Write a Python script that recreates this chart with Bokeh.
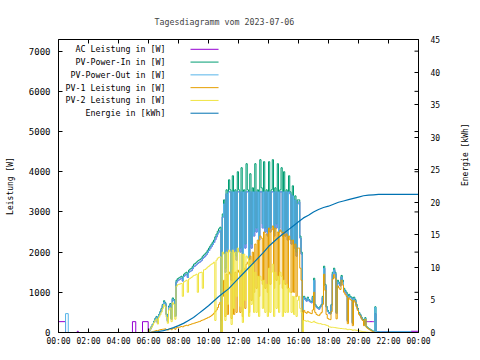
import numpy as np
from bokeh.plotting import figure
from bokeh.models import Range1d, LinearAxis, FixedTicker
from bokeh.core.properties import value
from bokeh.embed import file_html
from bokeh.resources import INLINE

TITLE = "Tagesdiagramm vom 2023-07-06"
Y_LABEL = "Leistung [W]"
Y2_LABEL = "Energie [kWh]"
X_TICKS = list(range(0, 25, 2))
X_TICK_LABELS = ["00:00", "02:00", "04:00", "06:00", "08:00", "10:00", "12:00",
                 "14:00", "16:00", "18:00", "20:00", "22:00", "00:00"]
Y_TICKS = [0, 1000, 2000, 3000, 4000, 5000, 6000, 7000]
Y2_TICKS = [0, 5, 10, 15, 20, 25, 30, 35, 40, 45]
X_MAX = 24
Y_MAX = 7290
Y2_MAX = 45

LABELS = ["AC Leistung in [W]", "PV-Power-In in [W]", "PV-Power-Out in [W]",
          "PV-1 Leistung in [W]", "PV-2 Leistung in [W]", "Energie in [kWh]"]
COLORS = ["#9400d3", "#009e73", "#56b4e9", "#e69f00", "#f0e442", "#0072b2"]

# ---- day samples, 5-minute steps from 06:00 to 22:00 ----
DAY_START = 6.0
STEP_MIN = 5

PV_IN_DAY = [
    40, 90, 150, 210, 280, 350, 400, 260, 450, 520, 600, 700,
    790, 740, 460, 300, 660, 720, 350, 860, 820, 420, 1300, 1340,
    1360, 1380, 1400, 1330, 1450, 1480, 1500, 1420, 1550, 1580, 1600, 1650,
    1700, 1720, 1750, 1780, 1800, 1820, 1850, 1900, 1930, 1960, 2000, 2050,
    2100, 2150, 2200, 2250, 2300, 2380, 2450, 2520, 2580, 2620, 0, 2950,
    3300, 1600, 3550, 2100, 3800, 3550, 1400, 3900, 2100, 3550, 1900, 4000,
    3550, 2100, 4100, 1500, 3550, 2200, 4200, 3550, 1800, 3950, 2200, 3600,
    2500, 4200, 2600, 3550, 2400, 4300, 3600, 2700, 4250, 2600, 3550, 2500,
    4250, 2600, 3550, 4300, 2500, 3600, 2700, 4200, 2600, 3550, 4100, 2500,
    4000, 2500, 3550, 2400, 3900, 3500, 2300, 3650, 2200, 3400, 2000, 3300,
    3300, 2400, 2000, 0, 900, 850, 800, 880, 820, 780, 760, 900,
    1350, 700, 650, 620, 600, 650, 700, 900, 1650, 1200, 650, 550,
    500, 480, 700, 1500, 1600, 1500, 500, 1300, 1250, 1200, 1420, 1300,
    1100, 1050, 1000, 300, 950, 900, 880, 250, 880, 820, 700, 600,
    500, 450, 380, 330, 200, 370, 150, 120, 100, 80, 60, 40,
    30, 640, 20, 20, 10, 10, 0, 0, 0, 0, 0, 0,
    0]

PV_OUT_DAY = [
    30, 80, 140, 200, 260, 330, 380, 240, 430, 500, 570, 670,
    760, 710, 440, 280, 630, 690, 330, 830, 790, 400, 1250, 1290,
    1310, 1330, 1350, 1280, 1400, 1430, 1450, 1370, 1500, 1520, 1540, 1590,
    1640, 1660, 1690, 1720, 1740, 1760, 1790, 1840, 1870, 1900, 1940, 1990,
    2040, 2090, 2140, 2190, 2240, 2310, 2380, 2450, 2500, 2540, 0, 2870,
    3200, 1500, 3450, 2000, 3500, 3500, 1300, 3500, 2000, 3500, 1800, 3500,
    3500, 2000, 3500, 1400, 3500, 2100, 3500, 3500, 1700, 3500, 2100, 3500,
    2400, 3500, 2500, 3500, 2300, 3500, 3500, 2600, 3500, 2500, 3500, 2400,
    3500, 2500, 3500, 3500, 2400, 3500, 2600, 3500, 2500, 3500, 3500, 2400,
    3500, 2400, 3500, 2300, 3500, 3450, 2200, 3400, 2100, 3300, 1900, 3200,
    3250, 2350, 1950, 0, 870, 820, 780, 850, 790, 760, 740, 870,
    1300, 680, 630, 600, 580, 630, 680, 870, 1600, 1170, 630, 520,
    480, 460, 680, 1450, 1560, 1460, 480, 1260, 1210, 1160, 1380, 1260,
    1060, 1010, 960, 280, 910, 870, 850, 230, 850, 790, 670, 580,
    480, 430, 360, 310, 190, 350, 140, 110, 90, 70, 55, 35,
    25, 620, 25, 25, 25, 25, 25, 25, 25, 25, 25, 25,
    25]

PV1_DAY = [
    0, 0, 10, 20, 30, 40, 50, 40, 60, 70, 75, 80,
    85, 90, 70, 60, 90, 95, 70, 100, 100, 80, 120, 125,
    130, 140, 150, 140, 160, 170, 180, 170, 190, 200, 210, 220,
    230, 240, 250, 260, 270, 280, 300, 310, 320, 340, 350, 370,
    380, 400, 420, 450, 480, 520, 560, 620, 700, 750, 0, 900,
    1300, 400, 1450, 450, 1500, 1450, 350, 1550, 450, 1500, 500, 1550,
    1500, 500, 1550, 400, 1600, 600, 1700, 1750, 500, 1900, 800, 2000,
    1000, 2200, 1100, 2300, 900, 2400, 2350, 1200, 2500, 1100, 2450, 1000,
    2600, 1200, 2550, 2650, 1100, 2600, 1300, 2500, 1200, 2550, 2500, 1100,
    2500, 1200, 2450, 1100, 2400, 2300, 1000, 2300, 1000, 2200, 900, 2100,
    2100, 1600, 1300, 0, 550, 500, 480, 520, 500, 480, 470, 560,
    1000, 500, 450, 430, 420, 460, 500, 700, 1450, 1050, 450, 350,
    330, 320, 520, 1330, 1440, 1350, 340, 1160, 1110, 1070, 1300, 1180,
    1000, 950, 900, 220, 860, 820, 800, 170, 800, 750, 640, 550,
    450, 410, 340, 300, 170, 330, 130, 100, 80, 60, 40, 20,
    10, 0, 0, 0, 0, 0, 0, 0, 0, 0, 0, 0,
    0]

PV2_DAY = [
    30, 80, 130, 180, 240, 300, 340, 210, 380, 440, 510, 600,
    690, 640, 380, 230, 560, 610, 270, 740, 700, 330, 1150, 1190,
    1200, 1210, 1220, 900, 1260, 1280, 1300, 1000, 1330, 1350, 1370, 1400,
    1420, 1430, 1450, 1000, 1480, 1490, 1500, 1100, 1560, 1570, 1600, 1630,
    1650, 1680, 1700, 1720, 1750, 300, 1800, 1850, 1870, 1880, 0, 2000,
    1950, 300, 2000, 700, 2050, 2000, 200, 2050, 600, 2000, 900, 2100,
    2000, 650, 1950, 250, 1950, 800, 1900, 1850, 400, 1800, 700, 1700,
    500, 1500, 500, 1400, 400, 1400, 1300, 600, 1300, 500, 1200, 400,
    1600, 500, 1500, 1700, 400, 1500, 600, 1400, 500, 1500, 1400, 400,
    1300, 500, 1200, 500, 1100, 1000, 500, 900, 450, 900, 400, 800,
    900, 600, 500, 0, 300, 290, 280, 290, 270, 260, 250, 260,
    280, 250, 240, 230, 220, 220, 210, 200, 200, 190, 180, 170,
    140, 135, 130, 130, 125, 120, 115, 110, 105, 100, 100, 95,
    90, 90, 85, 70, 80, 75, 70, 55, 65, 60, 55, 50,
    40, 35, 30, 25, 20, 15, 10, 10, 5, 5, 0, 0,
    0, 0, 0, 0, 0, 0, 0, 0, 0, 0, 0, 0,
    0]

# ---- night samples (hours, values) ----
NIGHT_AM_T = [0.0, 0.47, 0.65]
PV_OUT_NIGHT_AM = [0, 470, 0]
ZERO_NIGHT_AM = [0, 0, 0]
NIGHT_PM_T = [23.5, 24.0]
PV_OUT_NIGHT_PM = [0, 0]
ZERO_NIGHT_PM = [0, 0]

AC_NIGHT_AM_T = [0.0, 0.47, 1.25, 1.32, 4.93, 5.15, 5.6, 5.98]
AC_NIGHT_AM = [270, 0, 30, 0, 270, 0, 270, 0]
AC_NIGHT_PM = [30, 30]
# AC follows PV-Power-Out during the day except where it shows on its own
AC_DAY_OVERRIDES = {58: 300, 173: 270, 174: 270, 175: 270, 176: 270,
                    177: 270, 178: 270, 179: 270, 180: 270, 181: 470}

# ---- energy, 20-minute steps from 06:00 to 22:00 (kWh) ----
E_STEP_MIN = 20
ENERGY_DAY = [0, 0.05, 0.15, 0.3, 0.5, 0.75, 1.05, 1.4, 1.85, 2.3, 2.9, 3.5,
              4.1, 4.8, 5.5, 6.1, 6.7, 7.5, 8.3, 9.1, 9.9, 10.7, 11.5, 12.3,
              13.2, 13.9, 14.6, 15.2, 15.8, 16.4, 17.0, 17.6, 18.0, 18.5, 18.9,
              19.2, 19.4, 19.7, 20.0, 20.2, 20.4, 20.6, 20.8, 21.0, 21.1, 21.15,
              21.2, 21.2, 21.2]
ENERGY_T_START = [0.0]
ENERGY_START = [0]
ENERGY_T_END = [24.0]
ENERGY_END = [21.2]

day_t = list(DAY_START + np.arange(len(PV_IN_DAY)) * STEP_MIN / 60.0)
e_t = list(DAY_START + np.arange(len(ENERGY_DAY)) * E_STEP_MIN / 60.0)

ac_day = list(PV_OUT_DAY)
for k, v in AC_DAY_OVERRIDES.items():
    ac_day[k] = v

series = [
    (AC_NIGHT_AM_T + day_t + NIGHT_PM_T, AC_NIGHT_AM + ac_day + AC_NIGHT_PM),
    (NIGHT_AM_T + day_t + NIGHT_PM_T, ZERO_NIGHT_AM + PV_IN_DAY + ZERO_NIGHT_PM),
    (NIGHT_AM_T + day_t + NIGHT_PM_T, PV_OUT_NIGHT_AM + PV_OUT_DAY + PV_OUT_NIGHT_PM),
    (NIGHT_AM_T + day_t + NIGHT_PM_T, ZERO_NIGHT_AM + PV1_DAY + ZERO_NIGHT_PM),
    (NIGHT_AM_T + day_t + NIGHT_PM_T, ZERO_NIGHT_AM + PV2_DAY + ZERO_NIGHT_PM),
]

FONT = "DejaVu Sans Mono"

p = figure(frame_width=360, frame_height=293, output_backend="svg",
           toolbar_location=None,
           x_range=Range1d(0, X_MAX), y_range=Range1d(0, Y_MAX),
           min_border_left=58, min_border_right=62, min_border_top=39,
           min_border_bottom=28, background_fill_color="white",
           border_fill_color="white")
p.extra_y_ranges = {"energy": Range1d(0, Y2_MAX)}
p.grid.visible = False
p.outline_line_color = "black"
p.outline_line_width = 1

p.title.text = TITLE
p.title.align = "left"
p.title.offset = 96
p.title.text_font = FONT
p.title.text_font_size = "8.3px"
p.title.text_font_style = "normal"
p.title.standoff = 26

for (x, y), c in zip(series, COLORS[:5]):
    p.step(x=x, y=y, mode="after", line_color=c, line_width=1)

p.line(x=ENERGY_T_START + e_t + ENERGY_T_END, y=ENERGY_START + ENERGY_DAY + ENERGY_END,
       line_color=COLORS[5], line_width=1.2, y_range_name="energy")

# legend (top-left, text right-aligned, sample line to the right)
LEG_TEXT_X = 7.13
LEG_LINE_X0 = 8.8
LEG_LINE_X1 = 10.67
LEG_TOP = 7046
LEG_STEP = 318
rows = [LEG_TOP - i * LEG_STEP for i in range(len(LABELS))]
p.text(x=[LEG_TEXT_X] * len(LABELS), y=rows, text=LABELS, text_align="right",
       text_baseline="middle", text_font=value(FONT), text_font_size="8.3px",
       text_color="black")
p.segment(x0=[LEG_LINE_X0] * len(LABELS), y0=rows, x1=[LEG_LINE_X1] * len(LABELS),
          y1=rows, line_color=COLORS, line_width=1)

# mirrored inward tick marks on the top and right borders
TICK_PX = 4
tick_w = TICK_PX * Y_MAX / 293.0
tick_h = TICK_PX * X_MAX / 360.0
p.segment(x0=X_TICKS, y0=[Y_MAX] * len(X_TICKS), x1=X_TICKS,
          y1=[Y_MAX - tick_w] * len(X_TICKS), line_color="black", line_width=1)
p.segment(x0=[X_MAX] * len(Y_TICKS), y0=Y_TICKS, x1=[X_MAX - tick_h] * len(Y_TICKS),
          y1=Y_TICKS, line_color="black", line_width=1)

def style(ax, fs):
    ax.axis_line_color = "black"
    ax.major_tick_line_color = "black"
    ax.major_tick_in = TICK_PX
    ax.major_tick_out = 0
    ax.minor_tick_in = 0
    ax.minor_tick_out = 0
    ax.major_label_text_font = FONT
    ax.major_label_text_font_size = fs
    ax.major_label_text_color = "black"
    ax.axis_label_text_font = FONT
    ax.axis_label_text_font_size = "8px"
    ax.axis_label_text_font_style = "normal"
    ax.axis_label_text_color = "black"

xa = p.xaxis[0]
xa.ticker = FixedTicker(ticks=X_TICKS)
xa.major_label_overrides = {t: l for t, l in zip(X_TICKS, X_TICK_LABELS)}
style(xa, "8px")
xa.major_label_standoff = 4

ya = p.yaxis[0]
ya.ticker = FixedTicker(ticks=Y_TICKS)
style(ya, "9px")
ya.major_label_standoff = 8
ya.axis_label = Y_LABEL
ya.axis_label_standoff = 11

y2 = LinearAxis(y_range_name="energy", ticker=FixedTicker(ticks=Y2_TICKS),
                axis_label=Y2_LABEL)
style(y2, "8px")
y2.major_label_standoff = 12
y2.axis_label_standoff = 22
if "axis_label_orientation" in y2.properties():
    y2.axis_label_orientation = np.pi / 2
p.add_layout(y2, "right")

open("out.html", "w").write(file_html(p, INLINE))
